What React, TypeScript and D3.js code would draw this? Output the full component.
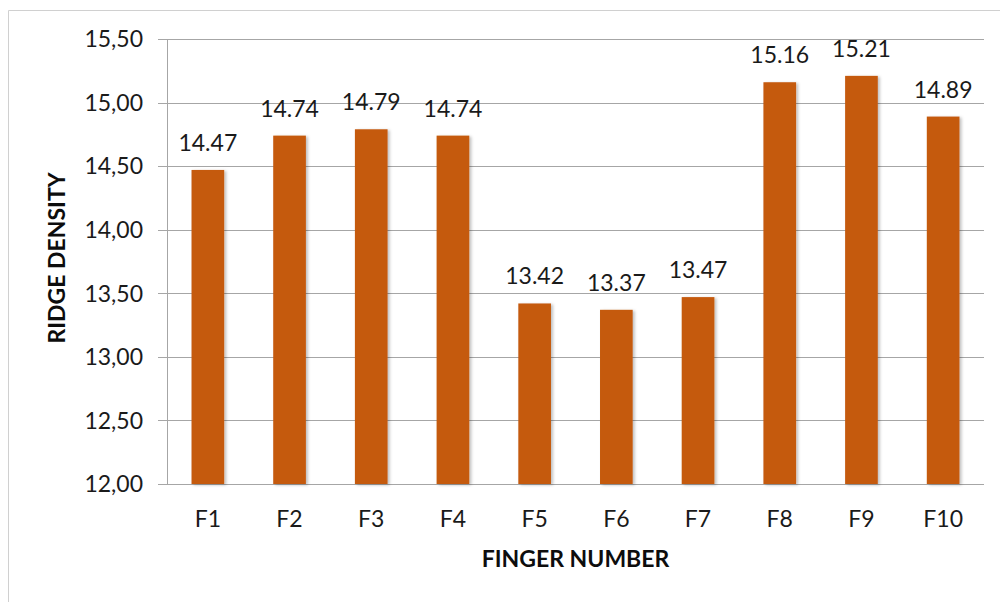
import React from "react";
import * as d3 from "d3";

const categories = ["F1", "F2", "F3", "F4", "F5", "F6", "F7", "F8", "F9", "F10"];
const values = [14.47, 14.74, 14.79, 14.74, 13.42, 13.37, 13.47, 15.16, 15.21, 14.89];
const yTicks = [12, 12.5, 13, 13.5, 14, 14.5, 15, 15.5];

const W = 1000;
const H = 602;
const plot = { left: 167, right: 984, top: 39, bottom: 484 };
const FONT = "Lato, 'Noto Sans', sans-serif";

export default function App() {
  const x = d3
    .scaleBand<string>()
    .domain(categories)
    .range([plot.left, plot.right])
    .paddingInner(0.6)
    .paddingOuter(0.3);
  const y = d3.scaleLinear().domain([12, 15.5]).range([plot.bottom, plot.top]);
  const fmt = (v: number) => d3.format(".2f")(v).replace(".", ",");

  return (
    <svg
      width={W}
      height={H}
      style={{ position: "absolute", left: 0, top: 0, background: "#fff" }}
    >
      <defs>
        <filter id="sh" x="-20%" y="-5%" width="150%" height="115%">
          <feDropShadow dx="2" dy="1" stdDeviation="1.5" floodColor="#000" floodOpacity="0.25" />
        </filter>
      </defs>
      <rect x={0} y={0} width={W} height={H} fill="#fff" />
      {/* outer frame */}
      <line x1={8.5} y1={10.5} x2={W} y2={10.5} stroke="#d0d0d0" />
      <line x1={8.5} y1={10.5} x2={8.5} y2={H} stroke="#d0d0d0" />

      {/* gridlines and ticks */}
      {yTicks.map((t) => (
        <g key={t}>
          <line
            x1={plot.left - 9}
            x2={plot.right}
            y1={Math.round(y(t)) + 0.5}
            y2={Math.round(y(t)) + 0.5}
            stroke="#a6a6a6"
            strokeWidth={1}
          />
          <text
            x={143}
            y={y(t)}
            dy="0.36em"
            textAnchor="end"
            fontFamily={FONT}
            fontSize={23}
            fill="#1a1a1a"
          >
            {fmt(t)}
          </text>
        </g>
      ))}
      <line
        x1={plot.left + 0.5}
        x2={plot.left + 0.5}
        y1={plot.top}
        y2={plot.bottom}
        stroke="#a6a6a6"
      />

      {/* bars */}
      {values.map((v, i) => {
        const c = categories[i];
        return (
          <g key={c}>
            <rect
              x={x(c)!}
              y={y(v)}
              width={x.bandwidth()}
              height={plot.bottom - y(v)}
              fill="#c55a11"
              filter="url(#sh)"
            />
            <text
              x={x(c)! + x.bandwidth() / 2}
              y={y(v) - 19}
              textAnchor="middle"
              fontFamily={FONT}
              fontSize={23}
              fill="#1a1a1a"
            >
              {v.toFixed(2)}
            </text>
            <text
              x={x(c)! + x.bandwidth() / 2}
              y={527}
              textAnchor="middle"
              fontFamily={FONT}
              fontSize={23}
              fill="#1a1a1a"
            >
              {c}
            </text>
          </g>
        );
      })}

      {/* axis titles */}
      <text
        x={(plot.left + plot.right) / 2}
        y={567}
        textAnchor="middle"
        fontFamily={FONT}
        fontWeight="bold"
        fontSize={23}
        fill="#0d0d0d"
      >
        FINGER NUMBER
      </text>
      <text
        transform={`translate(65, 258) rotate(-90)`}
        textAnchor="middle"
        fontFamily={FONT}
        fontWeight="bold"
        fontSize={23}
        fill="#0d0d0d"
      >
        RIDGE DENSITY
      </text>
    </svg>
  );
}
